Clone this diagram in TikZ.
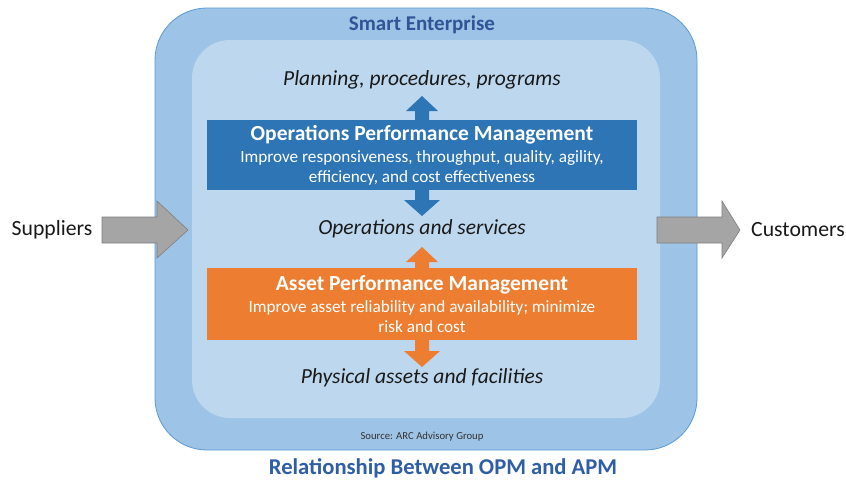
\documentclass[tikz,border=0pt]{standalone}
\usepackage{fontspec}
\setmainfont{Carlito}
\begin{document}
\begin{tikzpicture}[x=1pt,y=-1pt,
  txt/.style={inner sep=0pt, align=center},
  itl/.style={txt, font=\fontsize{21.5}{24}\selectfont\itshape, text=black!90},
  boxttl/.style={txt, font=\fontsize{21.5}{24}\selectfont\bfseries, text=white},
  boxsub/.style={txt, font=\fontsize{17.2}{20}\selectfont, text=white},
  side/.style={txt, font=\fontsize{21.7}{24}\selectfont, text=black!90},
  grayarrow/.style={fill=grayF, draw=grayD, line width=0.6pt},
]
\definecolor{outerC}{HTML}{9DC3E6}
\definecolor{outerD}{HTML}{5B9BD5}
\definecolor{innerC}{HTML}{BDD7EE}
\definecolor{opmC}{HTML}{2E75B6}
\definecolor{apmC}{HTML}{ED7D31}
\definecolor{ttlC}{HTML}{2F5597}
\definecolor{capC}{HTML}{2E5EA8}
\definecolor{grayF}{HTML}{A5A5A5}
\definecolor{grayD}{HTML}{7F7F7F}
\useasboundingbox (0,0) rectangle (846,483);
\fill[white] (0,0) rectangle (846,483);
% enterprise frames
\draw[fill=outerC, draw=outerD, line width=0.8pt, rounded corners=52pt] (155,8) rectangle (697,450);
\fill[innerC, rounded corners=38pt] (192,40) rectangle (660,418);
\node[txt, font=\fontsize{21}{24}\selectfont\bfseries, text=ttlC] (se) at (422,25) {Smart Enterprise};
% labels
\node[itl] (plan) at (422,80) {Planning, procedures, programs};
\node[itl] (ops) at (422,229) {Operations and services};
\node[itl] (phys) at (422,378) {Physical assets and facilities};
% blue double arrow
\fill[opmC] (415,200) -- (415,111) -- (406,111) -- (422,96) -- (438,111) -- (429,111) -- (429,200) -- (440,200) -- (422,216) -- (404,200) -- cycle;
% orange double arrow
\fill[apmC] (415,351) -- (415,262) -- (406,262) -- (422,247) -- (438,262) -- (429,262) -- (429,351) -- (440,351) -- (422,367) -- (404,351) -- cycle;
% OPM box
\node[fill=opmC, minimum width=430pt, minimum height=70pt, inner sep=0pt] (opm) at (422,155) {};
\node[boxttl] (opmt) at (422,135) {Operations Performance Management};
\node[boxsub] (opms) at (422,168) {Improve responsiveness, throughput, quality, agility,\\efficiency, and cost effectiveness};
% APM box
\node[fill=apmC, minimum width=430pt, minimum height=72pt, inner sep=0pt] (apm) at (422,304) {};
\node[boxttl] (apmt) at (422,285) {Asset Performance Management};
\node[boxsub] (apms) at (422,317) {Improve asset reliability and availability; minimize\\risk and cost};
% source
\node[txt, font=\fontsize{10.7}{12}\selectfont, text=black!80] (src) at (422,437) {Source: ARC Advisory Group};
% caption
\node[txt, font=\fontsize{22.6}{25}\selectfont\bfseries, text=capC] (cap) at (443,468) {Relationship Between OPM and APM};
% suppliers / customers
\node[side] (sup) at (52,230) {Suppliers};
\node[side] (cus) at (798,230) {Customers};
\draw[grayarrow] (102,217) -- (157,217) -- (157,201) -- (188,230) -- (157,258) -- (157,243) -- (102,243) -- cycle;
\draw[grayarrow] (657,217) -- (722,217) -- (722,201) -- (740,230) -- (722,258) -- (722,243) -- (657,243) -- cycle;
\end{tikzpicture}
\end{document}
